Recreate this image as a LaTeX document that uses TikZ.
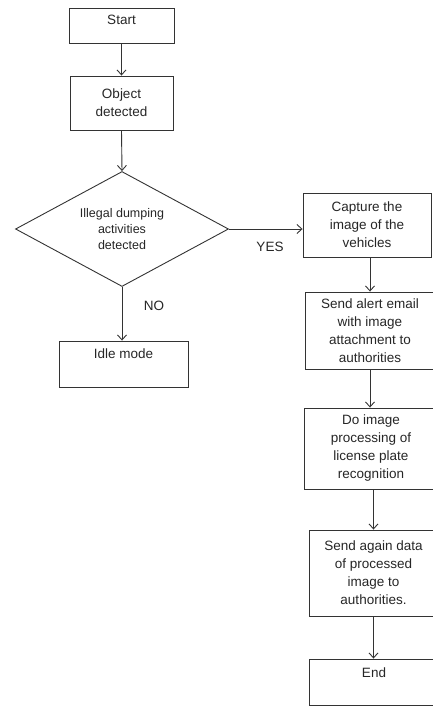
\documentclass[tikz,border=0pt]{standalone}
\usepackage{fontspec}
\setmainfont{Liberation Sans}
\usetikzlibrary{shapes.geometric, arrows.meta}

\tikzset{
	flowbox/.style={draw=black!80, line width=0.9pt, rectangle, inner sep=0pt, align=center, font=\fontsize{13.5}{18}\selectfont, text=black!85},
	decisionbox/.style={draw=black!80, line width=0.9pt, diamond, shape aspect=2, inner sep=0pt, align=center, font=\fontsize{12.5}{16}\selectfont, text=black!85},
	boxtext/.style={inner sep=0pt, font=\fontsize{13.5}{18}\selectfont, text=black!85},
	flowarrow/.style={draw=black!80, line width=0.9pt, -{Straight Barb[length=5pt, width=9pt]}},
}

\begin{document}
\begin{tikzpicture}[x=1pt, y=-1pt]
	\useasboundingbox (0,0) rectangle (432,706);

	% left column
	\node[flowbox, minimum width=105pt, minimum height=35pt] (start) at (121.5,25.5) {};
	\node[boxtext] (starttext) at ([yshift=5.5pt]start.center) {Start};
	\node[flowbox, minimum width=103pt, minimum height=54pt] (object) at (121.5,103) {Object\\detected};
	\node[decisionbox, minimum width=213pt, minimum height=115pt] (illegal) at (122,229) {Illegal dumping\\activities\\detected};
	\node[flowbox, minimum width=129pt, minimum height=46pt] (idle) at (123.5,364) {};
	\node[boxtext] (idletext) at ([yshift=10pt]idle.center) {Idle mode};

	% right column
	\node[flowbox, minimum width=128pt, minimum height=64pt] (capture) at (367,225) {Capture the\\image of the\\vehicles};
	\node[flowbox, minimum width=130pt, minimum height=77pt] (alert) at (370,330.5) {Send alert email\\with image\\attachment to\\authorities};
	\node[flowbox, minimum width=134pt, minimum height=81pt] (plate) at (371,448.5) {Do image\\processing of\\license plate\\recognition};
	\node[flowbox, minimum width=129pt, minimum height=86pt] (again) at (373.5,573) {Send again data\\of processed\\image to\\authorities.};
	\node[flowbox, minimum width=130pt, minimum height=46pt] (end) at (374,682) {};
	\node[boxtext] (endtext) at ([yshift=9pt]end.center) {End};

	\node[boxtext] (yes) at (270,247) {YES};
	\node[boxtext] (no) at (154,306) {NO};

	\begin{scope}[flowarrow]
		\draw (start.south) -- (object.north);
		\draw (object.south) -- (illegal.north);
		\draw (illegal.south) -- (illegal.south |- idle.north);
		\draw (illegal.east) -- (illegal.east -| capture.west);
		\draw (alert.north |- capture.south) -- (alert.north);
		\draw (alert.south) -- (alert.south |- plate.north);
		\draw (again.north |- plate.south) -- (again.north);
		\draw (again.south) -- (again.south |- end.north);
	\end{scope}
\end{tikzpicture}
\end{document}
